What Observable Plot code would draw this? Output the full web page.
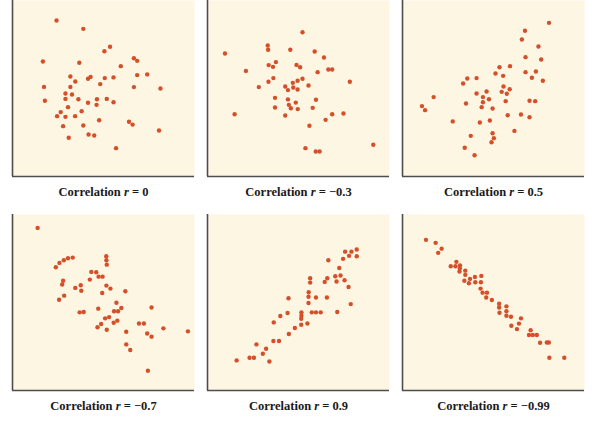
<!DOCTYPE html>
<html>
<head>
<meta charset="utf-8">
<script src="https://cdn.jsdelivr.net/npm/d3@7"></script>
<script src="https://cdn.jsdelivr.net/npm/@observablehq/plot@0.6"></script>
<style>
  html, body { margin: 0; padding: 0; background: #ffffff; }
  #chart svg { display: block; }
</style>
</head>
<body>
<div id="chart"></div>
<script>
// Six scatterplots of simulated (x, y) pairs, one per correlation value.
const rValues = [0, -0.3, 0.5, -0.7, 0.9, -0.99];

const pointsR0 = [
  [24.2,88.6],[38.9,83.9],[53.6,73.7],[50.5,71.2],[16.7,65.3],[36.7,64.6],[66.7,67.2],[68.5,65.7],
  [59.5,62.7],[31.8,56.8],[34.5,54.0],[41.5,55.5],[42.9,56.6],[50.7,55.9],[55.5,56.3],[68.5,57.6],
  [74.0,58.0],[17.3,50.9],[31.8,50.9],[48.2,52.5],[66.7,50.8],[81.3,50.0],[29.1,47.2],[32.7,46.6],
  [17.8,43.0],[29.1,44.1],[36.2,43.9],[46.4,43.9],[51.8,44.1],[41.5,41.9],[46.2,40.7],[55.5,42.2],
  [30.5,39.4],[26.5,36.6],[38.0,37.1],[24.5,34.3],[29.1,33.9],[34.4,34.3],[47.6,32.0],[64.0,31.1],
  [66.0,29.5],[27.8,28.6],[38.9,29.0],[41.8,23.9],[44.9,23.3],[30.9,22.0],[80.5,26.1],[56.9,16.1]
];

const pointsRm03 = [
  [52.2,82.0],[33.1,74.4],[33.3,72.0],[45.5,72.0],[9.6,69.9],[58.9,71.0],[64.0,67.6],[37.6,65.0],
  [33.6,63.3],[36.0,62.3],[48.9,63.4],[50.9,62.1],[21.1,60.0],[60.5,59.3],[66.4,60.8],[68.5,60.8],
  [36.2,55.9],[33.5,53.8],[52.2,55.5],[49.5,54.4],[46.9,53.2],[78.2,53.8],[28.2,50.8],[42.7,51.1],
  [44.2,49.1],[47.1,50.6],[49.5,49.4],[55.5,51.7],[37.1,44.7],[44.2,43.8],[59.6,43.6],[48.5,42.0],
  [44.7,40.7],[45.8,38.8],[49.6,38.3],[37.1,39.2],[57.8,39.0],[14.9,35.4],[42.7,34.7],[68.5,35.4],
  [74.7,35.8],[64.9,32.2],[56.0,28.8],[91.1,18.0],[53.8,16.1],[59.5,14.2],[61.6,14.2]
];

const pointsR05 = [
  [80.5,87.3],[67.3,82.8],[65.6,77.8],[74.7,73.9],[67.6,67.8],[76.2,66.5],[59.1,62.7],[53.3,62.1],
  [51.1,58.5],[55.3,57.2],[67.6,59.3],[73.3,59.7],[71.1,56.1],[77.1,54.4],[35.6,55.7],[40.7,55.9],
  [33.3,52.8],[55.5,51.1],[58.9,49.6],[54.5,48.1],[57.3,47.0],[46.2,48.3],[40.7,47.2],[17.1,45.1],
  [44.2,45.1],[47.5,43.9],[44.2,42.2],[56.7,42.8],[69.8,43.0],[72.9,42.8],[34.9,41.5],[10.7,40.0],
  [12.4,37.7],[43.5,39.4],[49.5,38.6],[57.8,34.8],[65.1,35.2],[69.8,33.7],[27.6,31.3],[42.5,30.7],
  [48.0,31.8],[61.5,25.9],[37.5,23.1],[49.5,24.6],[50.2,21.8],[48.9,19.5],[34.2,16.3],[39.6,12.1]
];

const pointsRm07 = [
  [13.8,92.4],[33.1,75.5],[30.5,75.1],[28.2,74.0],[25.8,72.5],[23.8,70.0],[51.5,76.3],[51.6,74.0],
  [51.8,71.5],[43.3,67.4],[46.0,67.2],[47.3,64.7],[49.5,64.7],[42.5,63.0],[27.8,62.4],[27.3,60.2],
  [37.5,59.8],[34.5,58.3],[51.6,59.6],[53.8,57.9],[37.8,56.7],[49.3,55.4],[62.0,56.4],[28.4,53.9],
  [25.6,51.6],[57.1,49.9],[76.4,47.2],[47.1,46.5],[59.8,46.9],[55.8,45.0],[58.0,45.0],[36.9,44.4],
  [39.1,44.6],[53.1,41.7],[50.9,41.0],[57.6,39.7],[55.6,38.5],[48.7,37.8],[69.5,38.1],[72.2,38.1],
  [46.7,35.9],[51.8,34.5],[62.5,33.4],[82.9,35.3],[96.4,33.6],[74.0,32.4],[76.4,30.6],[62.5,26.2],
  [64.7,23.0],[74.4,11.2]
];

const pointsR09 = [
  [75.6,78.9],[79.1,78.9],[82.0,80.1],[77.8,76.5],[82.0,76.3],[74.5,74.8],[66.4,74.0],[72.4,69.6],
  [70.2,64.9],[73.1,65.3],[65.8,63.8],[64.4,61.7],[70.9,61.9],[75.3,62.6],[56.4,63.8],[56.4,61.3],
  [77.5,58.8],[55.6,55.8],[55.5,53.3],[59.6,52.8],[65.6,52.8],[44.5,52.4],[55.5,49.7],[78.7,49.1],
  [57.3,44.4],[59.6,44.4],[62.2,44.4],[51.6,44.4],[71.3,44.6],[44.0,44.0],[51.6,42.5],[51.5,40.8],
  [40.0,42.3],[36.4,38.7],[54.9,38.1],[51.5,37.4],[48.0,35.5],[44.7,32.1],[36.2,28.1],[39.3,28.1],
  [26.9,26.2],[32.2,23.7],[30.4,20.9],[23.1,18.6],[25.5,18.6],[16.0,17.1],[34.0,16.5]
];

const pointsRm099 = [
  [12.9,85.6],[18.2,83.9],[21.5,80.6],[19.6,78.2],[29.6,73.1],[26.5,70.6],[29.1,70.6],[31.6,71.0],
  [31.5,69.3],[31.3,67.6],[34.5,68.1],[34.5,65.7],[39.8,64.5],[43.3,65.1],[37.1,63.4],[34.0,62.4],
  [36.5,60.9],[40.0,61.5],[43.1,61.5],[42.9,57.9],[44.0,55.6],[46.4,55.6],[46.0,52.8],[49.1,51.4],
  [53.1,49.3],[57.1,47.8],[53.1,47.2],[57.1,45.0],[53.3,44.2],[57.1,42.5],[59.6,41.9],[65.1,41.0],
  [64.0,38.0],[59.8,36.8],[62.9,34.9],[70.4,34.3],[69.5,31.5],[71.6,31.5],[73.8,31.5],[75.6,27.1],
  [79.3,27.3],[80.4,27.3],[80.7,18.6],[88.9,18.6]
];

const pointSets = [pointsR0, pointsRm03, pointsR05, pointsRm07, pointsR09, pointsRm099];

// Lay the panels out three per row.
const fmt = (v) => (v < 0 ? "\u2212" + Math.abs(v) : String(v));
const panels = rValues.map((r, i) => ({col: i % 3, row: Math.floor(i / 3), label: fmt(r)}));
const points = pointSets.flatMap((pts, i) =>
  pts.map(([x, y]) => ({x, y, col: i % 3, row: Math.floor(i / 3)}))
);

const chart = Plot.plot({
  width: 606,
  height: 423,
  marginLeft: 11,
  marginRight: 20,
  marginTop: 0,
  marginBottom: 33,
  style: {background: "#ffffff"},
  x: {domain: [0, 100], axis: null},
  y: {domain: [0, 100], axis: null},
  fx: {domain: [0, 1, 2], paddingInner: 0.0663, paddingOuter: 0, axis: null},
  fy: {domain: [0, 1], paddingInner: 0.1776, paddingOuter: 0, axis: null},
  marks: [
    Plot.frame({fill: "#fdf6e3", stroke: "none"}),
    Plot.ruleX(panels, {x: () => 0, fx: "col", fy: "row", stroke: "#4d4d4d", strokeWidth: 1.6}),
    Plot.ruleY(panels, {y: () => 0, fx: "col", fy: "row", stroke: "#4d4d4d", strokeWidth: 1.6}),
    Plot.dot(points, {x: "x", y: "y", fx: "col", fy: "row", r: 2.2, fill: "#d4502a", stroke: "none"}),
    Plot.text(panels, {
      fx: "col", fy: "row",
      text: (d) => "Correlation r = " + d.label,
      frameAnchor: "bottom",
      lineAnchor: "middle",
      dy: 15,
      fontFamily: "'Liberation Serif', 'Times New Roman', serif",
      fontWeight: "bold",
      fontSize: 12.5,
      fill: "#1a1a1a"
    })
  ]
});

// Italicise the "r" in each panel caption.
d3.select(chart).selectAll('g[aria-label="text"] text').each(function () {
  const full = this.textContent;
  const rest = full.replace("Correlation r", "");
  const t = d3.select(this);
  t.text(null);
  t.append("tspan").text("Correlation ");
  t.append("tspan").attr("font-style", "italic").text("r");
  t.append("tspan").text(rest);
});

document.getElementById("chart").append(chart);
</script>
</body>
</html>
